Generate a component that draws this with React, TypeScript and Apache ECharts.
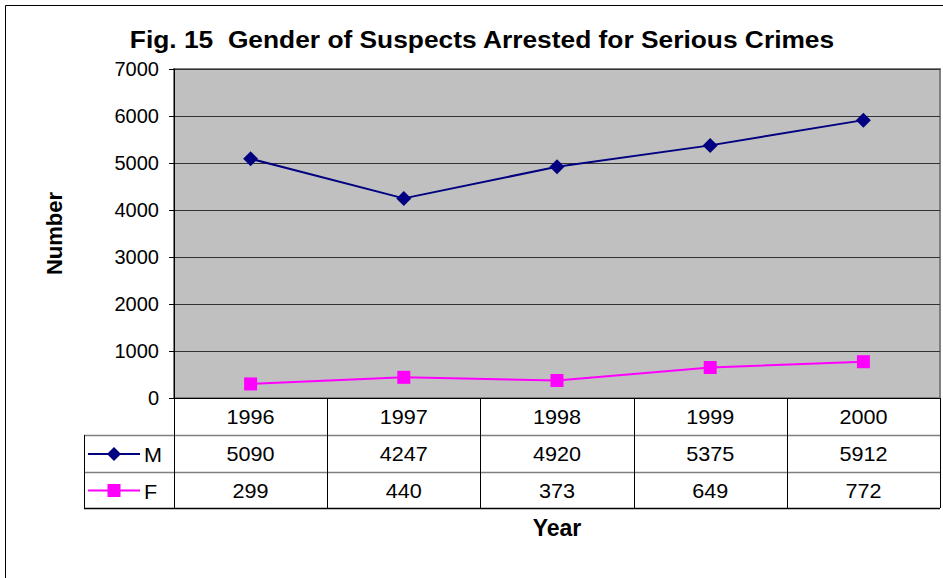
import React, { useEffect, useRef } from "react";
import * as echarts from "echarts";

const years = ["1996", "1997", "1998", "1999", "2000"];
const maleValues = [5090, 4247, 4920, 5375, 5912];
const femaleValues = [299, 440, 373, 649, 772];
const seriesNames = ["M", "F"];
const seriesColors = ["#000080", "#FF00FF"];

const W = 943;
const H = 578;
const GL = 174;
const GR = 940;
const GT = 69;
const GB = 398;
const ROW1 = 435;
const ROW2 = 472;
const ROW3 = 508;
const LEGX = 84;

export default function App() {
  const ref = useRef<HTMLDivElement>(null);
  useEffect(() => {
    document.body.style.margin = "0";
    const chart = echarts.init(ref.current!, null, { renderer: "svg" });
    const font = "'Liberation Sans', Arial, sans-serif";
    const colW = (GR - GL) / years.length;
    const graphics: any[] = [];
    graphics.push({ type: "rect", shape: { x: 5.5, y: 5.5, width: 1200, height: 1200 }, style: { fill: "none", stroke: "#000", lineWidth: 1 }, silent: true });
    graphics.push({ type: "text", x: 482, y: 40, scaleX: 1.145, style: { text: "Fig. 15  Gender of Suspects Arrested for Serious Crimes", font: `bold 23px ${font}`, fill: "#000", align: "center", verticalAlign: "middle" } });
    [ROW1, ROW2].forEach((y) => graphics.push({ type: "line", shape: { x1: LEGX, y1: y + 0.5, x2: GR, y2: y + 0.5 }, style: { stroke: "#808080", lineWidth: 1.5 } }));
    graphics.push({ type: "line", shape: { x1: LEGX, y1: ROW3 + 0.5, x2: GR, y2: ROW3 + 0.5 }, style: { stroke: "#000", lineWidth: 1.5 } });
    graphics.push({ type: "line", shape: { x1: LEGX + 0.5, y1: ROW1, x2: LEGX + 0.5, y2: ROW3 }, style: { stroke: "#000", lineWidth: 1 } });
    for (let i = 0; i <= years.length; i++) {
      const x = Math.round(GL + colW * i) + 0.5;
      graphics.push({ type: "line", shape: { x1: x, y1: GB, x2: x, y2: ROW3 }, style: { stroke: "#000", lineWidth: 1 } });
    }
    const rows = [years, maleValues.map(String), femaleValues.map(String)];
    const rowCenters = [(GB + ROW1) / 2, (ROW1 + ROW2) / 2, (ROW2 + ROW3) / 2];
    rows.forEach((row, r) => {
      row.forEach((txt, i) => {
        graphics.push({ type: "text", x: GL + colW * (i + 0.5), y: rowCenters[r] + 0.5, scaleX: 1.08, style: { text: txt, font: `20px ${font}`, fill: "#000", align: "center", verticalAlign: "middle" } });
      });
    });
    seriesNames.forEach((name, k) => {
      const cy = rowCenters[k + 1] + 0.5;
      const col = seriesColors[k];
      graphics.push({ type: "line", shape: { x1: 88, y1: cy, x2: 140, y2: cy }, style: { stroke: col, lineWidth: 2 } });
      if (k === 0) {
        graphics.push({ type: "polygon", shape: { points: [[114, cy - 7], [121, cy], [114, cy + 7], [107, cy]] }, style: { fill: col } });
      } else {
        graphics.push({ type: "rect", shape: { x: 107.5, y: cy - 6.5, width: 13, height: 13 }, style: { fill: col } });
      }
      graphics.push({ type: "text", x: 144, y: cy + 1, scaleX: 1.08, style: { text: name, font: `20px ${font}`, fill: "#000", align: "left", verticalAlign: "middle" } });
    });

    chart.setOption({
      animation: false,
      backgroundColor: "#fff",
      grid: { left: GL, right: W - GR, top: GT, bottom: H - GB, show: true, backgroundColor: "#C0C0C0", borderColor: "#808080", borderWidth: 2 },
      xAxis: {
        type: "category",
        data: years,
        boundaryGap: true,
        axisLine: { lineStyle: { color: "#000", width: 1 } },
        axisTick: { show: false },
        axisLabel: { show: false },
        name: "Year",
        nameLocation: "middle",
        nameGap: 118,
        nameTextStyle: { fontFamily: font, fontSize: 23, fontWeight: "bold", color: "#000" },
      },
      yAxis: {
        type: "value",
        min: 0,
        max: 7000,
        interval: 1000,
        axisLine: { show: true, lineStyle: { color: "#000", width: 1 } },
        axisTick: { show: true, length: 5, lineStyle: { color: "#000" } },
        axisLabel: { fontFamily: font, fontSize: 20, color: "#000", margin: 15, formatter: (v: number) => String(v) },
        splitLine: { lineStyle: { color: "#333", width: 1 } },
        name: "Number",
        nameLocation: "middle",
        nameRotate: 90,
        nameGap: 109,
        nameTextStyle: { fontFamily: font, fontSize: 22, fontWeight: "bold", color: "#000" },
      },
      series: [
        { name: seriesNames[0], type: "line", data: maleValues, symbol: "diamond", symbolSize: 15, itemStyle: { color: seriesColors[0] }, lineStyle: { color: seriesColors[0], width: 2 } },
        { name: seriesNames[1], type: "line", data: femaleValues, symbol: "rect", symbolSize: 13, itemStyle: { color: seriesColors[1] }, lineStyle: { color: seriesColors[1], width: 2 } },
      ],
      graphic: graphics,
    });
    return () => chart.dispose();
  }, []);
  return <div ref={ref} style={{ width: W, height: H }} />;
}
